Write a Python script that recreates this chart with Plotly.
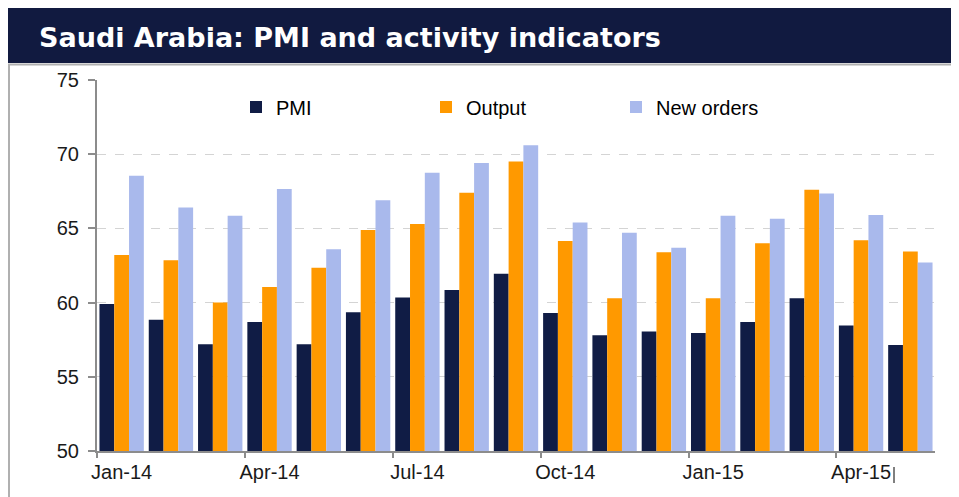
import plotly.graph_objects as go

months = ["Jan-14", "Feb-14", "Mar-14", "Apr-14", "May-14", "Jun-14", "Jul-14", "Aug-14",
          "Sep-14", "Oct-14", "Nov-14", "Dec-14", "Jan-15", "Feb-15", "Mar-15", "Apr-15", "May-15"]
pmi = [59.9, 58.85, 57.2, 58.7, 57.2, 59.35, 60.35, 60.85, 61.95, 59.3, 57.8, 58.05, 57.95,
       58.7, 60.3, 58.45, 57.15]
output = [63.2, 62.85, 60.0, 61.05, 62.35, 64.9, 65.3, 67.4, 69.5, 64.15, 60.3, 63.4, 60.3,
          64.0, 67.6, 64.2, 63.45]
new_orders = [68.55, 66.4, 65.85, 67.65, 63.6, 66.9, 68.75, 69.4, 70.6, 65.4, 64.7, 63.7, 65.85,
              65.65, 67.35, 65.9, 62.7]
y_ticks = [50, 55, 60, 65, 70, 75]

# page body has an 8px margin, so the figure is laid out in coordinates shifted by 8px
W, H = 951, 489
L, R, T, B = 89, 24, 72, 46
PW, PH = W - L - R, H - T - B


def px(x):
    return (x - L) / PW


def py(y):
    return (H - B - y) / PH


xpos = list(range(len(months)))
label_idx = list(range(0, len(months), 3))

FONT = "Liberation Sans, Arial, sans-serif"

fig = go.Figure()
fig.add_trace(go.Bar(x=xpos, y=pmi, name="PMI", marker=dict(color="#101c45", line=dict(width=0))))
fig.add_trace(go.Bar(x=xpos, y=output, name="Output", marker=dict(color="#ff9900", line=dict(width=0))))
fig.add_trace(go.Bar(x=xpos, y=new_orders, name="New orders", marker=dict(color="#a9b9ec", line=dict(width=0))))

shapes = [
    dict(type="rect", xref="paper", yref="paper", x0=px(0), x1=px(W), y0=py(55), y1=py(0),
         fillcolor="#111a40", line=dict(width=0), layer="above"),
    dict(type="line", xref="paper", yref="paper", x0=px(0), x1=px(W), y0=py(56.5), y1=py(56.5),
         line=dict(color="#b0b0b0", width=2)),
    dict(type="line", xref="paper", yref="paper", x0=px(1), x1=px(1), y0=py(56), y1=py(H),
         line=dict(color="#b0b0b0", width=2)),
    dict(type="line", xref="paper", yref="paper", x0=px(886), x1=px(886), y0=py(459), y1=py(475),
         line=dict(color="#000000", width=1)),
]

fig.update_layout(
    width=W, height=H,
    margin=dict(l=L, r=R, t=T, b=B),
    paper_bgcolor="white", plot_bgcolor="white",
    barmode="group", bargap=0.1, bargroupgap=0.0,
    font=dict(family=FONT, size=20, color="#1a1a1a"),
    showlegend=True,
    legend=dict(orientation="h", x=px(228), y=py(99), xanchor="left", yanchor="middle",
                font=dict(size=20, color="#000000", family=FONT), bgcolor="rgba(0,0,0,0)",
                entrywidth=145, entrywidthmode="pixels", traceorder="normal"),
    shapes=shapes,
    annotations=[dict(text="<b>Saudi Arabia: PMI and activity indicators</b>", xref="paper", yref="paper",
                      x=px(29), y=py(29), xanchor="left", yanchor="middle", showarrow=False,
                      font=dict(size=27, color="white", family="DejaVu Sans, sans-serif"))],
    xaxis=dict(range=[-0.5, len(months) - 0.5], tickmode="array", tickvals=label_idx,
               ticktext=[months[i] for i in label_idx], ticks="", showgrid=False, zeroline=False,
               showline=True, linecolor="#8c8c8c", linewidth=2,
               minor=dict(tickmode="linear", tick0=-0.5, dtick=3, ticks="outside", ticklen=5,
                          tickcolor="#8c8c8c", tickwidth=2, showgrid=False),
               tickfont=dict(size=20, family=FONT), ticklabelstandoff=2, fixedrange=True),
    yaxis=dict(range=[50, 75], tickmode="array", tickvals=y_ticks, ticks="outside", ticklen=7,
               tickcolor="#8c8c8c", tickwidth=2, showline=True, linecolor="#8c8c8c", linewidth=2,
               showgrid=True, gridcolor="#d4d4d4", griddash="dash", gridwidth=1, zeroline=False,
               tickfont=dict(size=20, family=FONT), ticklabelstandoff=5, fixedrange=True),
)

fig.write_html("out.html")
